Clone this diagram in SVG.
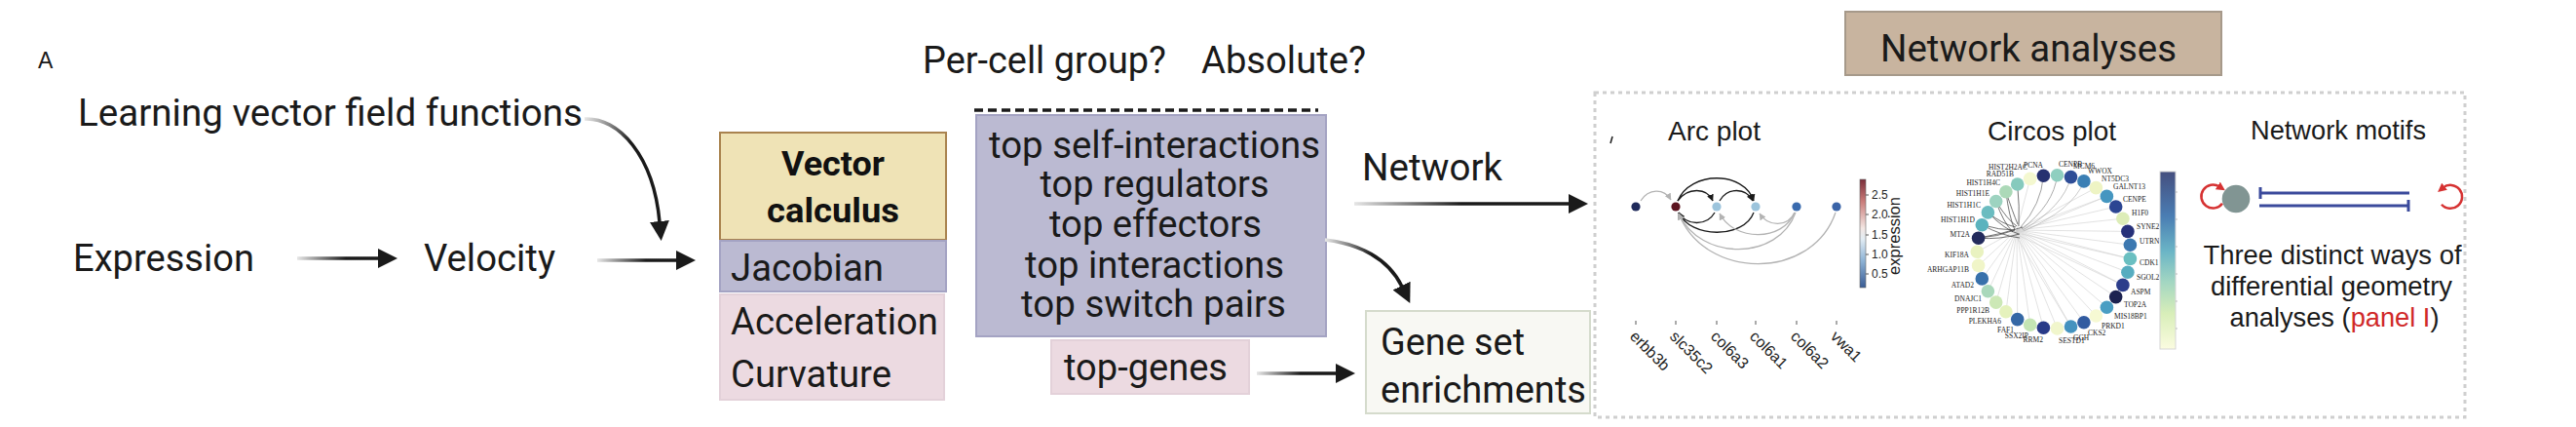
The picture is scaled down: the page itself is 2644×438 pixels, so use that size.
<svg xmlns="http://www.w3.org/2000/svg" width="2644" height="438" viewBox="0 0 2644 438">
<style>
.t{font-family:Roboto,"Liberation Sans",sans-serif;fill:#1a1a1a;font-size:38px}
.b{font-family:Roboto,"Liberation Sans",sans-serif;fill:#111;font-size:35px;font-weight:bold}
.h{font-family:"Liberation Sans",Arial,sans-serif;fill:#1a1a1a}
.s{font-family:"Liberation Serif","Times New Roman",serif;font-size:7.5px;fill:#222}
.ax{font-family:"Liberation Sans",Arial,sans-serif;font-size:12px;fill:#222}
.gl{font-family:"Liberation Sans",Arial,sans-serif;font-size:16px;fill:#222}
.shaft{fill:none;stroke-width:3.5}
.arcB{fill:none;stroke:#1a1a1a;stroke-width:1.3}
.arcG{fill:none;stroke:#b3b3b3;stroke-width:1.3}
.fan{stroke:#cfcfcf;stroke-width:0.6;fill:none}
.dk{stroke:#1a1a1a;stroke-width:0.7;fill:none;opacity:0.85}
.tick{stroke:#555;stroke-width:1}
</style>
<defs>
<marker id="ah" markerUnits="userSpaceOnUse" markerWidth="20" markerHeight="20" refX="1" refY="10" orient="auto"><path d="M0,0 L20,10 L0,20 z" fill="#1a1a1a"/></marker>
<marker id="mB" markerUnits="userSpaceOnUse" markerWidth="7" markerHeight="7" refX="6.5" refY="3.5" orient="auto"><path d="M0,0 L7,3.5 L0,7 z" fill="#1a1a1a"/></marker>
<marker id="mG" markerUnits="userSpaceOnUse" markerWidth="7" markerHeight="7" refX="6.5" refY="3.5" orient="auto"><path d="M0,0 L7,3.5 L0,7 z" fill="#b3b3b3"/></marker>
<marker id="mR" markerUnits="userSpaceOnUse" markerWidth="9" markerHeight="9" refX="2" refY="4.5" orient="auto"><path d="M0,0 L9,4.5 L0,9 z" fill="#d63232"/></marker>
<linearGradient id="g1" gradientUnits="userSpaceOnUse" x1="305" y1="0" x2="355" y2="0"><stop offset="0" stop-color="#e6e6e6"/><stop offset="1" stop-color="#1a1a1a"/></linearGradient>
<linearGradient id="g2" gradientUnits="userSpaceOnUse" x1="613" y1="0" x2="663" y2="0"><stop offset="0" stop-color="#e6e6e6"/><stop offset="1" stop-color="#1a1a1a"/></linearGradient>
<linearGradient id="g3" gradientUnits="userSpaceOnUse" x1="1390" y1="0" x2="1500" y2="0"><stop offset="0" stop-color="#e6e6e6"/><stop offset="1" stop-color="#1a1a1a"/></linearGradient>
<linearGradient id="g4" gradientUnits="userSpaceOnUse" x1="1290" y1="0" x2="1335" y2="0"><stop offset="0" stop-color="#e6e6e6"/><stop offset="1" stop-color="#1a1a1a"/></linearGradient>
<linearGradient id="g5" gradientUnits="userSpaceOnUse" x1="600" y1="122" x2="645" y2="150"><stop offset="0" stop-color="#e6e6e6"/><stop offset="1" stop-color="#1a1a1a"/></linearGradient>
<linearGradient id="g6" gradientUnits="userSpaceOnUse" x1="1360" y1="246" x2="1408" y2="262"><stop offset="0" stop-color="#e6e6e6"/><stop offset="1" stop-color="#1a1a1a"/></linearGradient>
<linearGradient id="cbA" x1="0" y1="0" x2="0" y2="1"><stop offset="0" stop-color="#7a2e3a"/><stop offset="0.2" stop-color="#c97a78"/><stop offset="0.45" stop-color="#f3e6e2"/><stop offset="0.55" stop-color="#e3edf4"/><stop offset="0.75" stop-color="#8fb4d6"/><stop offset="1" stop-color="#3a5c95"/></linearGradient>
<linearGradient id="cbC" x1="0" y1="0" x2="0" y2="1"><stop offset="0" stop-color="#454f7f"/><stop offset="0.25" stop-color="#4a7db3"/><stop offset="0.45" stop-color="#6bb5c6"/><stop offset="0.62" stop-color="#a2d6c2"/><stop offset="0.8" stop-color="#d8eeb9"/><stop offset="1" stop-color="#fbfce0"/></linearGradient>
</defs>
<rect width="2644" height="438" fill="#ffffff"/>

<text x="39" y="70" class="h" font-size="23">A</text>

<g id="learning"><text x="80" y="129" class="t" font-size="40" textLength="518" lengthAdjust="spacingAndGlyphs">Learning vector field functions</text></g>
<g id="expression"><text x="75" y="278" class="t" textLength="186" lengthAdjust="spacingAndGlyphs">Expression</text></g>
<g id="velocity"><text x="435" y="278" class="t" textLength="135" lengthAdjust="spacingAndGlyphs">Velocity</text></g>

<g id="vector-calculus">
<rect x="739" y="136" width="232" height="110" fill="#efe3b6" stroke="#a9834f" stroke-width="2"/>
<text x="855" y="180" class="b" text-anchor="middle" textLength="106" lengthAdjust="spacingAndGlyphs">Vector</text>
<text x="855" y="228" class="b" text-anchor="middle" textLength="136" lengthAdjust="spacingAndGlyphs">calculus</text>
</g>
<g id="jacobian">
<rect x="739" y="247" width="232" height="52" fill="#bbbad2" stroke="#a4a3c3" stroke-width="2"/>
<text x="750" y="288" class="t" textLength="157" lengthAdjust="spacingAndGlyphs">Jacobian</text>
</g>
<g id="accel-curv">
<rect x="739" y="302" width="230" height="108" fill="#ecdae1" stroke="#e3d1d9" stroke-width="2"/>
<text x="750" y="343" class="t" textLength="213" lengthAdjust="spacingAndGlyphs">Acceleration</text>
<text x="750" y="397" class="t" textLength="165" lengthAdjust="spacingAndGlyphs">Curvature</text>
</g>

<g id="questions">
<text x="947" y="75" class="t" font-size="36" textLength="250" lengthAdjust="spacingAndGlyphs">Per-cell group?</text>
<text x="1233" y="75" class="t" font-size="36" textLength="169" lengthAdjust="spacingAndGlyphs">Absolute?</text>
<line x1="1000" y1="113" x2="1353" y2="113" stroke="#1a1a1a" stroke-width="3.5" stroke-dasharray="9 5"/>
</g>

<g id="rankings">
<rect x="1002" y="118" width="359" height="227" fill="#bbbad2" stroke="#a4a3c3" stroke-width="2"/>
<text x="1185" y="162" class="t" text-anchor="middle" textLength="340" lengthAdjust="spacingAndGlyphs">top self-interactions</text>
<text x="1185" y="202" class="t" text-anchor="middle" textLength="235" lengthAdjust="spacingAndGlyphs">top regulators</text>
<text x="1186" y="243" class="t" text-anchor="middle" textLength="218" lengthAdjust="spacingAndGlyphs">top effectors</text>
<text x="1185" y="285" class="t" text-anchor="middle" textLength="266" lengthAdjust="spacingAndGlyphs">top interactions</text>
<text x="1184" y="325" class="t" text-anchor="middle" textLength="272" lengthAdjust="spacingAndGlyphs">top switch pairs</text>
</g>

<g id="top-genes">
<rect x="1079" y="349" width="203" height="55" fill="#ecdae1" stroke="#e3d1d9" stroke-width="2"/>
<text x="1092" y="390" class="t" textLength="168" lengthAdjust="spacingAndGlyphs">top-genes</text>
</g>

<g id="network-label"><text x="1398" y="185" class="t" textLength="144" lengthAdjust="spacingAndGlyphs">Network</text></g>

<g id="gene-set">
<rect x="1402" y="319" width="230" height="105" fill="#f8f8f3" stroke="#d5dbcc" stroke-width="2"/>
<text x="1417" y="364" class="t" textLength="148" lengthAdjust="spacingAndGlyphs">Gene set</text>
<text x="1417" y="413" class="t" textLength="211" lengthAdjust="spacingAndGlyphs">enrichments</text>
</g>

<g id="network-analyses">
<rect x="1894" y="12" width="386" height="65" fill="#c8b49f" stroke="#a6998a" stroke-width="2"/>
<text x="1930" y="63" class="t" font-size="40" textLength="304" lengthAdjust="spacingAndGlyphs">Network analyses</text>
</g>

<g id="connectors">
<path class="shaft" d="M305,265 H389" stroke="url(#g1)" marker-end="url(#ah)"/>
<path class="shaft" d="M613,267 H695" stroke="url(#g2)" marker-end="url(#ah)"/>
<path class="shaft" d="M600,122 C635,120 671,160 677,228" stroke="url(#g5)" marker-end="url(#ah)"/>
<path class="shaft" d="M1390,209 H1611" stroke="url(#g3)" marker-end="url(#ah)"/>
<path class="shaft" d="M1360,246 C1395,250 1425,265 1439,294" stroke="url(#g6)" marker-end="url(#ah)"/>
<path class="shaft" d="M1290,383 H1372" stroke="url(#g4)" marker-end="url(#ah)"/>
</g>

<g id="analyses-panel">
<rect x="1637" y="95" width="893" height="333" fill="none" stroke="#cfcfcf" stroke-width="3" stroke-dasharray="4 4"/>
</g>

<g id="arc-plot">
<text x="1712" y="144" class="h" font-size="28" textLength="95" lengthAdjust="spacingAndGlyphs">Arc plot</text>
<path d="M1653,147 L1655,140" stroke="#1a1a1a" stroke-width="1.5"/>
<path class="arcG" d="M1684,206 C1692,193 1708,193 1715,205" marker-end="url(#mG)"/>
<path class="arcB" d="M1722,206 C1735,175 1790,175 1800,206" marker-end="url(#mB)"/>
<path class="arcB" d="M1722,206 C1732,192 1752,192 1758,206" marker-end="url(#mB)"/>
<path class="arcB" d="M1765,206 C1773,192 1792,192 1799,206" marker-end="url(#mB)"/>
<path class="arcB" d="M1760,218 C1752,232 1731,232 1723,218" marker-end="url(#mB)"/>
<path class="arcB" d="M1800,218 C1790,245 1735,245 1723,218" marker-end="url(#mB)"/>
<path class="arcG" d="M1842,218 C1830,248 1780,248 1765,219" marker-end="url(#mG)"/>
<path class="arcG" d="M1842,218 C1835,233 1815,233 1806,219" marker-end="url(#mG)"/>
<path class="arcG" d="M1843,218 C1825,268 1745,268 1723,219" marker-end="url(#mG)"/>
<path class="arcG" d="M1884,218 C1860,288 1750,288 1723,219" marker-end="url(#mG)"/>
<circle cx="1679" cy="212" r="4.6" fill="#1f2a5a"/>
<circle cx="1720" cy="212" r="4.6" fill="#5c1420"/>
<circle cx="1762" cy="212" r="4.6" fill="#9cc4dc"/>
<circle cx="1802" cy="212" r="4.6" fill="#9cc4dc"/>
<circle cx="1844" cy="212" r="4.6" fill="#3a6bae"/>
<circle cx="1885" cy="212" r="4.6" fill="#3a64a8"/>
<rect x="1909" y="184" width="6" height="111" fill="url(#cbA)" stroke="#666" stroke-width="0.6"/>
<g class="tick"><line x1="1915" y1="200" x2="1918" y2="200"/><line x1="1915" y1="220" x2="1918" y2="220"/><line x1="1915" y1="241" x2="1918" y2="241"/><line x1="1915" y1="261" x2="1918" y2="261"/><line x1="1915" y1="281" x2="1918" y2="281"/></g>
<text x="1921" y="204" class="ax">2.5</text>
<text x="1921" y="224" class="ax">2.0</text>
<text x="1921" y="245" class="ax">1.5</text>
<text x="1921" y="265" class="ax">1.0</text>
<text x="1921" y="285" class="ax">0.5</text>
<text transform="translate(1950,242) rotate(-90)" text-anchor="middle" class="h" font-size="16.5">expression</text>
<g class="tick"><line x1="1679" y1="329" x2="1679" y2="333"/><line x1="1720" y1="329" x2="1720" y2="333"/><line x1="1762" y1="329" x2="1762" y2="333"/><line x1="1802" y1="329" x2="1802" y2="333"/><line x1="1844" y1="329" x2="1844" y2="333"/><line x1="1885" y1="329" x2="1885" y2="333"/></g>
<text transform="translate(1672,346) rotate(45)" class="gl">erbb3b</text>
<text transform="translate(1713,346) rotate(45)" class="gl">slc35c2</text>
<text transform="translate(1755,346) rotate(45)" class="gl">col6a3</text>
<text transform="translate(1795,346) rotate(45)" class="gl">col6a1</text>
<text transform="translate(1837,346) rotate(45)" class="gl">col6a2</text>
<text transform="translate(1878,346) rotate(45)" class="gl">vwa1</text>
</g>

<g id="circos-plot">
<text x="2040" y="144" class="h" font-size="28" textLength="132" lengthAdjust="spacingAndGlyphs">Circos plot</text>
<g class="fan">
<path d="M2070,236 L2029.3,258.3"/><path d="M2070,236 L2083.7,183.4"/>
<path d="M2070,236 L2151.4,192.6"/><path d="M2070,236 L2162.4,201.4"/><path d="M2070,236 L2171.7,212"/><path d="M2070,236 L2178.9,224.2"/><path d="M2070,236 L2183.9,237.4"/><path d="M2070,236 L2186.4,251.2"/><path d="M2070,236 L2186.4,265.4"/><path d="M2070,236 L2183.9,279.2"/><path d="M2070,236 L2178.9,292.4"/><path d="M2070,236 L2171.7,304.6"/><path d="M2070,236 L2162.4,315.2"/><path d="M2070,236 L2151.4,324"/><path d="M2070,236 L2138.9,330.7"/><path d="M2070,236 L2125.5,335"/><path d="M2070,236 L2111.5,336.9"/><path d="M2070,236 L2097.4,336.3"/><path d="M2070,236 L2083.7,333.2"/><path d="M2070,236 L2070.7,327.6"/><path d="M2070,236 L2058.9,319.8"/><path d="M2070,236 L2048.7,310.1"/><path d="M2070,236 L2040.4,298.7"/><path d="M2070,236 L2034.3,285.9"/><path d="M2070,236 L2030.6,272.4"/>
<path d="M2075,240 L2186.4,265.4"/><path d="M2073,242 L2178.9,292.4"/><path d="M2068,240 L2125.5,335"/><path d="M2074,238 L2162.4,201.4"/>
</g>
<path d="M2074,233 Q2095,210 2097.4,180.3" stroke="#777" stroke-width="0.7" fill="none"/>
<path d="M2075,235 Q2108,210 2111.5,179.7" stroke="#888" stroke-width="0.7" fill="none"/>
<path d="M2076,236 Q2118,212 2125.5,181.6" stroke="#999" stroke-width="0.6" fill="none"/>
<path d="M2077,237 Q2128,215 2138.9,185.9" stroke="#aaa" stroke-width="0.6" fill="none"/>
<g class="dk">
<path d="M2030.6,244.2 Q2050,243 2068,236"/><path d="M2030.6,244.2 Q2052,246 2073,240"/><path d="M2030.6,244.2 Q2055,240 2076,233"/>
<path d="M2034.3,230.7 Q2052,236 2068,236"/><path d="M2034.3,230.7 Q2055,242 2073,244"/>
<path d="M2040.4,217.9 Q2055,230 2069,233"/><path d="M2040.4,217.9 Q2058,236 2072,240"/>
<path d="M2048.7,206.5 Q2060,225 2070,232"/><path d="M2048.7,206.5 Q2056,228 2066,238"/>
<path d="M2058.9,196.8 Q2066,218 2071,230"/><path d="M2058.9,196.8 Q2062,222 2068,236"/>
<path d="M2070.7,189 Q2073,212 2072,232"/>
</g>
<circle cx="2029.3" cy="258.3" r="6.8" fill="#e9f2c0"/>
<circle cx="2030.6" cy="244.2" r="6.8" fill="#232b5c"/>
<circle cx="2034.3" cy="230.7" r="6.8" fill="#5bb3be"/>
<circle cx="2040.4" cy="217.9" r="6.8" fill="#6bbcc0"/>
<circle cx="2048.7" cy="206.5" r="6.8" fill="#9dd3c0"/>
<circle cx="2058.9" cy="196.8" r="6.8" fill="#acd9b8"/>
<circle cx="2070.7" cy="189" r="6.8" fill="#86cabd"/>
<circle cx="2083.7" cy="183.4" r="6.8" fill="#f4f8d0"/>
<circle cx="2097.4" cy="180.3" r="6.8" fill="#263170"/>
<circle cx="2111.5" cy="179.7" r="6.8" fill="#8fcfc0"/>
<circle cx="2125.5" cy="181.6" r="6.8" fill="#2f4e97"/>
<circle cx="2138.9" cy="185.9" r="6.8" fill="#3b7fb4"/>
<circle cx="2151.4" cy="192.6" r="6.8" fill="#eef4c4"/>
<circle cx="2162.4" cy="201.4" r="6.8" fill="#4596c0"/>
<circle cx="2171.7" cy="212" r="6.8" fill="#2b4592"/>
<circle cx="2178.9" cy="224.2" r="6.8" fill="#ddedb8"/>
<circle cx="2183.9" cy="237.4" r="6.8" fill="#27317a"/>
<circle cx="2186.4" cy="251.2" r="6.8" fill="#3c78b0"/>
<circle cx="2186.4" cy="265.4" r="6.8" fill="#6abfc1"/>
<circle cx="2183.9" cy="279.2" r="6.8" fill="#57adc0"/>
<circle cx="2178.9" cy="292.4" r="6.8" fill="#2c3d8b"/>
<circle cx="2171.7" cy="304.6" r="6.8" fill="#1c2250"/>
<circle cx="2162.4" cy="315.2" r="6.8" fill="#4a9ec3"/>
<circle cx="2151.4" cy="324" r="6.8" fill="#f6f9d3"/>
<circle cx="2138.9" cy="330.7" r="6.8" fill="#315ba0"/>
<circle cx="2125.5" cy="335" r="6.8" fill="#4492bf"/>
<circle cx="2111.5" cy="336.9" r="6.8" fill="#f1f6cc"/>
<circle cx="2097.4" cy="336.3" r="6.8" fill="#283a88"/>
<circle cx="2083.7" cy="333.2" r="6.8" fill="#c4e5b4"/>
<circle cx="2070.7" cy="327.6" r="6.8" fill="#3568a5"/>
<circle cx="2058.9" cy="319.8" r="6.8" fill="#e5f2bc"/>
<circle cx="2048.7" cy="310.1" r="6.8" fill="#cce8b6"/>
<circle cx="2040.4" cy="298.7" r="6.8" fill="#a9d8bb"/>
<circle cx="2034.3" cy="285.9" r="6.8" fill="#3871ab"/>
<circle cx="2030.6" cy="272.4" r="6.8" fill="#f0f5c8"/>
<g class="s" text-anchor="end">
<text x="2021" y="264">KIF18A</text>
<text x="2022" y="242.5">MT2A</text>
<text x="2027" y="228">HIST1H1D</text>
<text x="2033" y="213">HIST1H1C</text>
<text x="2042" y="201">HIST1H1E</text>
<text x="2053" y="190">HIST1H4C</text>
<text x="2067" y="181">RAD51B</text>
<text x="2081" y="174">HIST2H2AC</text>
<text x="2021" y="279">ARHGAP11B</text>
<text x="2026" y="295">ATAD2</text>
<text x="2034" y="308.5">DNAJC1</text>
<text x="2042" y="321">PPP1R12B</text>
<text x="2054" y="332">PLEKHA6</text>
<text x="2067" y="341">FAF1</text>
<text x="2082" y="347">SSX2IP</text>
<text x="2097" y="351">RRM2</text>
</g>
<g class="s">
<text x="2077" y="171.5">PCNA</text>
<text x="2113" y="171">CENPB</text>
<text x="2128" y="173">MCM6</text>
<text x="2143" y="177.5">WWOX</text>
<text x="2157" y="186">NT5DC3</text>
<text x="2169" y="194">GALNT13</text>
<text x="2179" y="206.5">CENPE</text>
<text x="2188" y="220.5">H1F0</text>
<text x="2193" y="235">SYNE2</text>
<text x="2196" y="250">UTRN</text>
<text x="2196" y="272">CDK1</text>
<text x="2193" y="287">SGOL2</text>
<text x="2187" y="302">ASPM</text>
<text x="2180" y="315">TOP2A</text>
<text x="2170" y="327">MIS18BP1</text>
<text x="2157" y="336.5">PRKD1</text>
<text x="2143" y="344">CKS2</text>
<text x="2128" y="348.5">GGH</text>
<text x="2113" y="352">SESTD1</text>
</g>
<rect x="2217" y="176" width="16" height="182" fill="url(#cbC)" stroke="#d6d6d6" stroke-width="1"/>
<g stroke="#999" stroke-width="0.6"><line x1="2233" y1="197" x2="2235" y2="197"/><line x1="2233" y1="225" x2="2235" y2="225"/><line x1="2233" y1="253" x2="2235" y2="253"/><line x1="2233" y1="281" x2="2235" y2="281"/><line x1="2233" y1="309" x2="2235" y2="309"/><line x1="2233" y1="337" x2="2235" y2="337"/></g>
</g>

<g id="network-motifs">
<text x="2310" y="143" class="h" font-size="28" textLength="180" lengthAdjust="spacingAndGlyphs">Network motifs</text>
<path d="M2281,208.7 A12,12 0 1 1 2278,191.5" fill="none" stroke="#d63232" stroke-width="2.5" marker-end="url(#mR)"/>
<circle cx="2295" cy="204" r="14.3" fill="#819593"/>
<g stroke="#3b4a9c" stroke-width="3" fill="none">
<line x1="2319" y1="198" x2="2473" y2="198"/>
<line x1="2320" y1="192" x2="2320" y2="204"/>
<line x1="2319" y1="211" x2="2473" y2="211"/>
<line x1="2472" y1="205" x2="2472" y2="217"/>
</g>
<path d="M2506,209.7 A12,12 0 1 0 2507.5,192.5" fill="none" stroke="#d63232" stroke-width="2.5" marker-end="url(#mR)"/>
<text x="2394" y="271" class="h" font-size="27.5" text-anchor="middle" textLength="265" lengthAdjust="spacingAndGlyphs">Three distinct ways of</text>
<text x="2393" y="303" class="h" font-size="27.5" text-anchor="middle" textLength="248" lengthAdjust="spacingAndGlyphs">differential geometry</text>
<text x="2396" y="335" class="h" font-size="27.5" text-anchor="middle" textLength="215" lengthAdjust="spacingAndGlyphs">analyses (<tspan fill="#d02828">panel I</tspan>)</text>
</g>
</svg>
